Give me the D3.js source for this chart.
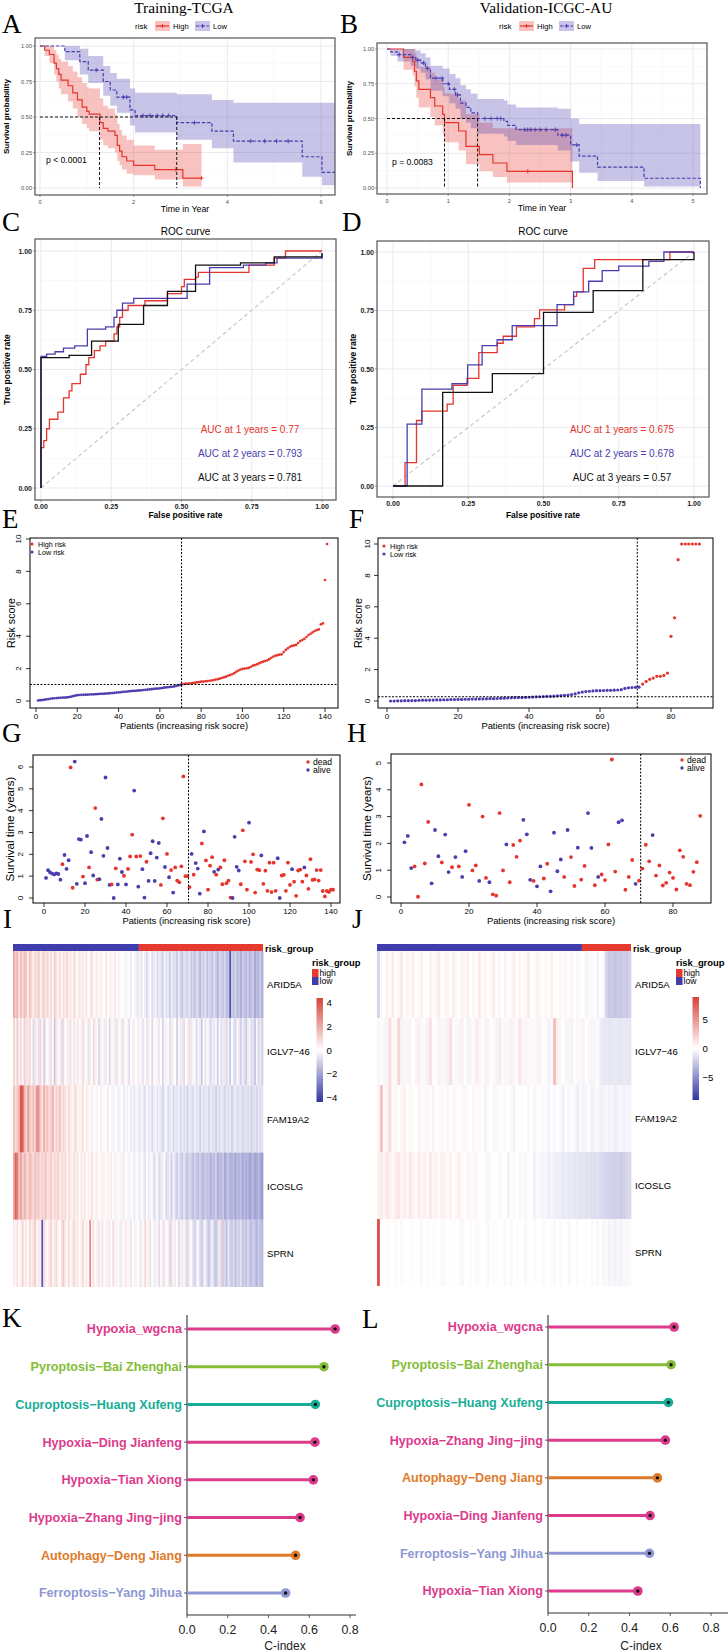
<!DOCTYPE html>
<html><head><meta charset="utf-8">
<script src="https://cdn.jsdelivr.net/npm/d3@7/dist/d3.min.js"></script>
<style>html,body{margin:0;padding:0;background:#fff;}svg{display:block;}</style>
</head><body>
<svg id="fig" width="728" height="1652" xmlns="http://www.w3.org/2000/svg"></svg>
<script>
// ======================= DATA =======================
// Kaplan-Meier steps: [time, survival, lower CI, upper CI]
const kmA_high=[[0,1,1,1],[0.1,0.97,0.93,1],[0.2,0.94,0.88,1],[0.3,0.88,0.8,0.97],[0.35,0.84,0.75,0.94],[0.4,0.8,0.7,0.91],[0.45,0.76,0.66,0.89],[0.6,0.72,0.61,0.86],[0.7,0.67,0.56,0.82],[0.8,0.62,0.5,0.78],[0.9,0.57,0.45,0.74],[1.0,0.54,0.42,0.71],[1.05,0.52,0.4,0.7],[1.28,0.46,0.34,0.63],[1.35,0.42,0.3,0.58],[1.45,0.4,0.28,0.56],[1.6,0.37,0.25,0.52],[1.65,0.3,0.19,0.45],[1.7,0.26,0.16,0.41],[1.75,0.22,0.13,0.37],[1.85,0.19,0.1,0.34],[2.0,0.16,0.09,0.3],[2.45,0.13,0.06,0.27],[3.05,0.07,0.01,0.31]];
const kmA_highEnd=3.45;
const kmA_low=[[0,1,1,1],[0.53,0.96,0.9,1],[0.85,0.89,0.8,0.98],[1.03,0.83,0.74,0.93],[1.35,0.75,0.65,0.86],[1.5,0.69,0.58,0.81],[1.64,0.64,0.53,0.77],[1.92,0.55,0.44,0.7],[2.03,0.51,0.39,0.67],[2.92,0.46,0.34,0.66],[3.67,0.4,0.28,0.62],[4.13,0.33,0.18,0.6],[5.6,0.22,0.08,0.6],[6.02,0.11,0.02,0.6]];
const kmA_lowEnd=6.3;
const kmA_highCensor=[2.9,3.45];
const kmA_lowCensor=[1.2,1.78,1.85,2.2,2.35,2.5,2.62,2.75,3.3,4.5,4.8,5.05,5.3];
const kmA_median=[1.27,2.92];
const kmA_p="p < 0.0001";

const kmB_high=[[0,1,1,1],[0.27,0.94,0.85,1],[0.42,0.91,0.81,1],[0.45,0.84,0.73,0.97],[0.48,0.77,0.65,0.92],[0.52,0.71,0.58,0.87],[0.71,0.65,0.51,0.83],[0.78,0.59,0.45,0.78],[0.91,0.53,0.39,0.73],[0.94,0.47,0.33,0.68],[1.17,0.41,0.27,0.63],[1.29,0.3,0.17,0.53],[1.51,0.24,0.12,0.47],[1.73,0.18,0.08,0.43],[1.96,0.12,0.04,0.43],[3.03,0,0,0]];
const kmB_highEnd=3.03;
const kmB_low=[[0,1,1,1],[0.06,0.98,0.95,1],[0.17,0.96,0.91,1],[0.39,0.94,0.88,1],[0.47,0.92,0.86,0.99],[0.55,0.9,0.83,0.97],[0.63,0.86,0.78,0.94],[0.71,0.79,0.7,0.88],[0.91,0.75,0.66,0.86],[1.02,0.71,0.61,0.82],[1.12,0.67,0.57,0.79],[1.2,0.61,0.5,0.74],[1.29,0.58,0.47,0.71],[1.37,0.54,0.43,0.68],[1.48,0.5,0.39,0.64],[1.91,0.48,0.37,0.63],[1.97,0.45,0.34,0.6],[2.11,0.42,0.31,0.58],[2.79,0.38,0.27,0.57],[3.0,0.31,0.19,0.5],[3.14,0.23,0.11,0.46],[3.44,0.15,0.05,0.46],[4.2,0.07,0.01,0.46],[5.12,0,0,0]];
const kmB_lowEnd=5.12;
const kmB_highCensor=[2.3];
const kmB_lowCensor=[0.2,0.42,0.5,0.6,0.66,0.8,0.9,1.0,1.1,1.15,1.6,1.7,1.8,1.86,2.25,2.3,2.35,2.42,2.5,2.6,2.75,2.86,2.92,3.1];
const kmB_median=[0.94,1.48];
const kmB_p="p = 0.0083";

// ROC curves: [false positive rate, true positive rate] (step corners)
const rocC_1=[[0,0],[0,0.17],[0.01,0.2],[0.02,0.25],[0.03,0.29],[0.06,0.32],[0.08,0.38],[0.1,0.41],[0.11,0.44],[0.14,0.48],[0.16,0.52],[0.17,0.55],[0.19,0.58],[0.21,0.6],[0.23,0.62],[0.26,0.65],[0.27,0.68],[0.28,0.72],[0.29,0.75],[0.31,0.77],[0.37,0.79],[0.45,0.82],[0.5,0.85],[0.51,0.88],[0.55,0.89],[0.56,0.91],[0.74,0.94],[0.83,0.97],[0.87,1],[1,1]];
const rocC_2=[[0,0],[0,0.555],[0.02,0.565],[0.05,0.575],[0.08,0.59],[0.12,0.6],[0.165,0.67],[0.23,0.68],[0.26,0.72],[0.27,0.75],[0.29,0.78],[0.33,0.8],[0.52,0.86],[0.6,0.93],[0.72,0.94],[0.8,0.95],[0.84,0.97],[1,0.99]];
const rocC_3=[[0,0],[0,0.55],[0.1,0.56],[0.18,0.62],[0.275,0.69],[0.365,0.77],[0.45,0.83],[0.55,0.94],[0.71,0.95],[0.83,0.975],[1,0.99]];
const aucC=["0.77","0.793","0.781"];
const rocD_1=[[0,0],[0.04,0.1],[0.078,0.28],[0.096,0.32],[0.18,0.35],[0.2,0.43],[0.246,0.46],[0.285,0.57],[0.346,0.61],[0.366,0.64],[0.41,0.68],[0.47,0.715],[0.487,0.753],[0.57,0.775],[0.6,0.81],[0.61,0.83],[0.632,0.93],[0.67,0.967],[0.92,1],[1,1]];
const rocD_2=[[0,0],[0.047,0.264],[0.096,0.414],[0.196,0.437],[0.248,0.518],[0.296,0.6],[0.346,0.625],[0.396,0.685],[0.545,0.775],[0.6,0.83],[0.65,0.875],[0.695,0.92],[0.75,0.94],[0.85,0.96],[0.9,1],[1,1]];
const rocD_3=[[0,0],[0.165,0.4],[0.33,0.48],[0.5,0.742],[0.665,0.835],[0.83,0.967],[1,1]];
const aucD=["0.675","0.678","0.57"];
const rocYears=[1,2,3];

// Risk scores (sorted)
const riskE_low=[0.03,0.05,0.06,0.08,0.10,0.12,0.14,0.16,0.17,0.18,0.19,0.20,0.21,0.21,0.22,0.24,0.27,0.30,0.33,0.36,0.37,0.38,0.38,0.39,0.39,0.40,0.41,0.41,0.42,0.43,0.44,0.44,0.45,0.46,0.47,0.48,0.49,0.50,0.52,0.53,0.54,0.56,0.57,0.58,0.60,0.61,0.62,0.63,0.64,0.65,0.66,0.68,0.69,0.70,0.72,0.73,0.75,0.76,0.77,0.78,0.80,0.82,0.84,0.85,0.87,0.88,0.90,0.93,0.96,0.99];
const riskE_high=[1.04,1.06,1.07,1.08,1.09,1.11,1.13,1.15,1.17,1.19,1.20,1.22,1.23,1.25,1.26,1.29,1.32,1.35,1.38,1.42,1.46,1.50,1.56,1.60,1.65,1.72,1.80,1.88,1.94,1.98,2.00,2.02,2.04,2.10,2.18,2.22,2.26,2.32,2.38,2.43,2.47,2.51,2.58,2.67,2.74,2.80,2.83,2.86,2.88,3.02,3.15,3.25,3.35,3.40,3.43,3.46,3.58,3.70,3.76,3.83,3.95,4.07,4.15,4.24,4.32,4.38,4.42,4.73,4.79,7.47,9.69];
const riskE_cut=1.02;
const riskF_low=[0.00,0.00,0.01,0.01,0.02,0.02,0.03,0.03,0.04,0.05,0.05,0.06,0.06,0.07,0.07,0.08,0.08,0.09,0.09,0.10,0.10,0.11,0.11,0.12,0.12,0.13,0.13,0.14,0.15,0.15,0.16,0.17,0.18,0.19,0.20,0.21,0.22,0.22,0.23,0.24,0.25,0.26,0.27,0.28,0.29,0.30,0.31,0.33,0.34,0.36,0.38,0.41,0.45,0.52,0.57,0.60,0.62,0.64,0.66,0.66,0.67,0.68,0.68,0.69,0.70,0.72,0.80,0.84,0.86,0.87,0.88];
const riskF_high=[1.08,1.25,1.38,1.46,1.57,1.57,1.63,1.78,4.12,5.30,9.00,10,10,10,10,10,10];
const riskF_cut=0.27;

// Survival time (years) and status (1 = dead, 0 = alive)
const survG_time=[0.92,1.27,1.17,1.12,1.08,1.13,1.10,0.84,1.55,1.97,1.33,1.73,5.98,0.47,6.25,0.65,2.70,2.67,0.98,0.68,2.84,1.40,2.10,1.03,4.12,0.84,0.86,3.62,1.93,5.52,2.29,0.60,0.62,0.00,1.36,0.62,1.80,1.19,1.02,0.62,1.33,1.90,2.90,4.92,1.90,0.52,1.92,1.32,0.02,1.66,0.78,2.05,2.60,0.78,1.85,2.52,0.60,3.65,1.42,2.02,0.95,1.28,0.25,1.40,0.80,0.72,1.45,5.57,1.00,1.00,0.50,2.02,1.07,1.60,1.35,0.20,2.50,3.05,1.72,0.38,1.48,1.87,1.20,1.07,1.30,1.40,0.63,1.73,0.68,0.80,0.02,0.00,2.80,1.43,1.26,0.63,3.10,1.68,0.38,3.45,1.65,2.00,0.25,1.30,1.27,1.95,0.65,1.25,0.33,1.62,0.27,1.62,0.33,1.82,0.00,1.03,1.06,0.33,1.62,0.60,1.32,0.75,0.10,1.26,1.30,0.75,1.40,1.03,0.42,1.78,0.83,0.85,1.28,0.80,1.28,0.32,0.07,0.32,0.28,0.38,0.38];
const survG_status=[0,0,0,0,0,0,0,0,1,0,0,0,1,1,0,0,0,0,1,0,0,1,0,0,1,1,0,0,0,0,0,0,1,0,1,0,0,0,1,0,1,1,1,0,1,0,1,0,0,1,0,0,0,0,0,0,1,1,0,1,0,1,0,1,1,1,1,1,1,1,1,0,1,0,0,0,1,0,1,1,1,1,0,1,0,1,1,1,1,1,1,0,0,0,0,1,1,1,1,0,1,1,1,1,1,0,1,1,1,1,1,1,1,0,0,1,1,1,1,1,0,1,1,1,1,1,0,1,1,1,1,1,1,1,1,1,1,1,1,1,1];
const survH_time=[2.04,2.28,1.08,1.14,0.01,4.20,1.25,2.80,0.51,2.50,1.52,1.29,2.33,0.93,1.11,1.49,1.14,0.75,1.71,3.44,0.99,1.18,0.60,3.00,0.71,0.55,0.10,0.05,3.13,0.99,1.96,0.55,1.94,1.50,2.10,2.88,2.34,0.64,0.60,0.40,1.14,0.69,1.24,0.21,2.40,0.96,1.40,0.75,2.50,1.49,0.41,1.84,0.65,1.16,3.13,1.83,0.44,0.75,0.84,0.63,1.96,5.13,0.95,2.79,2.86,0.27,0.75,1.38,0.49,0.61,1.06,1.95,1.33,2.31,0.80,1.18,0.43,0.53,0.91,0.71,0.28,1.74,1.50,0.49,0.44,0.94,1.30,3.03];
const survH_status=[0,0,0,1,1,1,1,1,0,0,0,1,0,0,1,0,1,0,0,1,1,1,0,1,1,0,1,1,1,1,0,1,1,1,1,0,0,0,1,0,0,1,1,0,0,0,0,1,0,1,1,0,1,1,0,0,1,0,1,1,1,1,1,0,0,1,1,1,0,1,1,1,1,0,1,1,1,1,1,1,1,1,1,1,1,1,1,1];
const riskCutIndex=70.5;

// Heatmap expression (z-scores), one array per gene
const genes=["ARID5A","IGLV7\u221246","FAM19A2","ICOSLG","SPRN"];
const heatI_ARID5A=[2.0,1.2,1.8,0.6,1.5,0.8,1.6,1.2,0.4,1.4,0.9,0.3,1.0,0.7,1.3,0.2,0.8,1.1,0.5,1.0,0.4,0.9,0.2,1.2,0.6,0.3,0.8,0.1,0.7,0.5,1.0,0.3,0.6,0.2,0.9,0.4,0.1,0.7,0.3,0.5,0.2,0.6,0.0,0.4,0.8,0.1,0.3,0.5,-0.1,0.4,0.2,0.0,0.6,0.1,-0.2,0.3,0.1,0.5,0.0,-0.3,0.2,0.0,-0.1,0.3,-0.2,0.1,-0.4,0.0,0.2,-0.3,-0.5,-0.2,-0.6,0.0,-0.4,-0.8,-0.3,-0.1,-0.7,-0.5,-0.2,-0.9,-0.4,-0.6,-1.0,-0.2,-0.7,-0.5,-1.1,-0.3,-0.8,-0.6,-1.2,-0.4,-0.9,-1.3,-0.6,-0.8,-1.0,-0.5,-1.2,-0.9,-1.4,-0.7,-1.0,-1.5,-0.8,-1.1,-0.6,-1.3,-0.9,-1.0,-1.4,-0.7,-1.2,-1.6,-0.9,-1.1,-1.3,-0.8,-1.5,-1.2,-3.8,-1.0,-1.4,-0.9,-1.6,-1.2,-1.8,-1.1,-1.3,-1.5,-1.0,-1.7,-1.3,-1.2,-1.9,-1.4,-1.6,-1.1,-1.8];
const heatI_IGLV746=[1.0,0.4,1.2,-0.3,0.8,0.2,1.1,-0.5,0.6,0.9,0.1,-0.8,0.7,0.3,-0.6,1.0,0.2,-0.9,0.5,0.0,-0.4,0.8,0.1,-1.2,0.6,-0.2,0.3,-0.7,0.9,0.0,0.4,-0.3,0.7,0.1,-0.5,0.2,0.6,-0.1,0.3,0.8,-0.2,0.1,-0.6,0.5,0.0,0.9,-0.3,0.2,-0.8,0.4,0.1,-0.4,0.6,0.0,-0.9,0.3,-0.2,0.5,-0.6,0.2,-0.1,0.7,-0.4,0.0,0.3,-0.7,0.1,0.4,-0.3,0.0,0.5,-0.2,0.3,-0.6,0.1,0.6,-0.4,0.0,-0.8,0.2,-0.1,0.4,-0.5,0.0,-0.9,0.3,-0.3,0.1,-0.6,0.5,-0.2,0.0,-1.0,0.2,-0.4,0.6,-0.7,0.0,-0.3,0.8,-0.5,-0.2,0.1,-0.8,0.3,-0.4,-1.1,0.0,-0.6,0.2,-0.3,-0.9,0.4,-0.5,-0.2,-1.0,0.1,-0.7,-0.4,0.6,-0.8,-0.3,-1.2,0.0,-0.6,-0.9,0.2,-0.5,-1.0,-0.3,-0.7,-1.1,-0.4,0.3,-0.8,-0.6,-1.3,-0.2,-0.9,-0.5,-1.0];
const heatI_FAM19A2=[1.5,0.8,1.2,2.0,4.0,3.6,1.8,1.0,2.2,1.4,0.9,1.6,1.1,2.6,2.4,1.3,0.7,1.9,1.0,1.5,0.8,1.2,1.7,0.6,1.1,0.9,1.4,0.5,1.0,0.7,0.3,0.8,0.5,0.2,0.6,0.9,0.1,0.4,0.3,0.7,0.0,0.5,0.2,-0.2,0.4,0.1,-0.1,0.3,0.0,-0.3,0.2,-0.1,0.1,-0.4,0.0,0.2,-0.3,-0.1,0.1,-0.4,-0.2,0.0,-0.5,-0.1,-0.3,0.1,-0.4,-0.2,-0.6,-0.1,-0.3,-0.5,-0.2,-0.4,-0.7,-0.1,-0.5,-0.3,-0.8,-0.4,-0.2,-0.6,-0.3,-0.5,-0.9,-0.4,-0.2,-0.7,-0.5,-0.3,-0.8,-0.5,-0.6,-0.3,-0.9,-0.4,-0.7,-0.5,-1.0,-0.4,-0.6,-0.8,-0.3,-0.6,-0.5,-1.0,-0.4,-0.7,-0.6,-0.5,-0.9,-0.4,-0.7,-0.6,-1.1,-0.5,-0.8,-0.4,-0.6,-0.9,-0.5,-0.7,-0.5,-1.0,-0.6,-0.4,-0.8,-0.6,-0.5,-0.9,-0.7,-0.6,-0.8,-0.5,-1.0,-0.7,-0.6,-0.9,-0.5,-0.8,-0.6];
const heatI_ICOSLG=[2.0,3.6,3.0,1.5,2.2,1.0,1.8,1.3,0.9,1.6,1.2,0.8,1.5,1.0,1.3,0.7,1.1,0.9,1.4,0.6,0.9,1.2,0.5,1.0,0.7,1.1,0.4,0.8,0.6,0.9,0.3,0.7,0.5,0.2,0.8,0.4,0.6,0.1,0.5,0.3,0.6,0.0,0.4,0.2,0.7,-0.1,0.3,0.5,0.0,0.2,0.4,-0.2,0.1,0.3,-0.1,0.5,0.0,-0.3,0.2,0.1,-0.2,0.3,-0.4,0.0,0.2,-0.3,-0.1,0.1,-0.5,0.0,-0.2,-0.4,0.1,-0.3,-0.6,0.0,-0.5,-0.2,0.2,-0.7,-0.4,-0.1,-0.8,-0.5,-0.3,0.1,-0.9,-0.6,-0.4,-1.0,-0.2,-0.7,-1.1,-0.5,-0.9,-1.2,-0.6,-1.0,-1.3,-0.8,-1.1,-1.4,-0.9,-1.2,-1.5,-1.0,-1.3,-1.6,-1.1,-1.4,-1.2,-1.7,-1.3,-1.5,-1.0,-1.8,-1.4,-1.6,-1.2,-1.9,-1.5,-1.3,-1.8,-1.6,-1.4,-2.0,-1.5,-1.7,-1.3,-1.9,-1.6,-1.8,-1.5,-2.1,-1.7,-1.6,-2.0,-1.8,-1.5,-1.9,-2.2];
const heatI_SPRN=[0.5,0.2,0.8,0.0,0.4,1.0,0.3,0.6,0.1,0.9,0.4,0.7,1.2,0.2,0.5,0.3,-3.6,0.8,0.4,0.1,0.6,1.0,0.2,0.5,0.9,0.3,0.0,0.7,1.3,0.4,0.2,0.8,0.1,0.5,1.0,0.3,0.6,0.0,0.4,0.9,0.2,0.5,0.1,2.6,0.3,0.7,0.0,0.4,-0.5,0.2,0.6,0.1,0.3,-0.3,0.5,0.0,0.8,-0.2,0.3,0.1,-0.4,0.4,0.0,0.6,-0.2,0.2,-0.5,0.1,0.3,-0.3,0.0,0.5,-0.4,0.1,0.9,-0.2,0.3,-0.6,0.0,0.4,-0.3,0.2,-0.7,0.1,0.6,-0.5,0.0,-0.3,1.0,-0.6,0.2,-0.4,0.0,-0.8,0.3,-0.5,-0.2,0.7,-0.9,-0.3,0.1,-0.6,-1.0,-0.4,0.2,-0.7,-1.1,-0.5,-0.2,-0.9,-1.2,-0.6,-0.3,-1.0,-1.3,-0.7,-0.4,1.2,-1.1,-0.8,-1.4,-0.5,-1.0,-1.2,-0.7,-1.5,-0.9,-1.1,-0.6,-1.3,-1.0,-1.4,-0.8,-1.2,-1.5,-1.0,-1.3,-1.6,-1.1,-1.4,-1.5];
const heatI_nLow=71;
const heatJ_ARID5A=[-1.8,0.3,0.0,0.6,0.2,0.9,0.1,0.4,1.0,0.0,0.5,0.2,0.8,0.0,0.3,0.7,0.1,0.0,0.6,0.2,0.4,0.9,0.0,0.3,0.5,0.1,0.8,0.2,0.0,0.6,0.3,0.7,0.0,0.4,0.1,0.9,0.2,0.5,0.0,0.3,0.8,0.1,0.4,0.0,0.6,0.2,0.3,0.7,0.0,0.5,0.1,0.4,0.9,0.0,0.2,0.6,0.3,0.0,0.5,0.1,0.7,0.2,0.0,0.4,0.3,-0.3,0.1,0.5,0.0,-0.4,0.2,0.0,-0.5,0.3,-0.2,0.1,-0.6,0.0,-0.3,-1.8,-2.4,-2.2,-2.6,-2.3,-2.5,-2.2,-2.4,-2.0];
const heatJ_IGLV746=[-0.3,0.2,-0.4,0.5,1.6,-0.2,0.3,1.9,-0.5,0.4,-0.3,0.6,0.0,-0.4,0.8,-0.2,0.3,-0.5,1.4,-0.1,0.2,0.6,-0.3,0.4,-0.6,1.5,-0.2,0.3,-0.4,0.7,0.0,-0.5,0.5,-0.2,0.9,-0.3,0.2,-0.4,0.6,-0.1,0.3,-0.5,1.0,-0.2,0.4,-0.3,0.7,-0.4,0.2,1.3,-0.3,0.5,-0.2,0.3,0.3,-0.4,0.6,-0.1,0.2,-0.5,0.4,3.0,0.8,-0.2,0.1,-0.4,0.5,-0.6,0.2,-0.3,0.4,-0.5,0.1,-0.3,0.6,-0.4,-0.2,-0.8,-1.0,-0.9,-1.1,-1.0,-0.9,-1.0,-1.1,-0.9,-1.0,-1.0];
const heatJ_FAM19A2=[0.4,2.8,0.3,0.6,1.6,0.2,0.5,0.0,0.3,0.7,0.1,0.4,0.2,0.0,0.5,0.3,-0.2,0.4,0.1,0.6,0.0,0.3,-0.3,0.2,0.5,0.0,0.4,-0.2,0.1,0.3,-0.4,0.2,0.0,0.5,-0.1,0.3,0.1,-0.5,0.2,0.0,0.4,-0.3,0.1,0.2,-0.2,0.0,0.3,-0.6,0.1,-0.1,0.2,0.0,-0.3,0.1,-0.4,0.2,0.0,-0.2,0.1,-0.5,0.0,-0.3,0.1,-0.2,-0.6,0.0,-0.4,-0.1,-0.3,-0.7,-0.2,-0.5,-0.3,-0.1,-0.6,-0.4,-0.2,-0.7,-0.5,-0.3,-0.6,-0.4,-0.8,-0.5,-0.3,-0.6,-0.4,-0.5];
const heatJ_ICOSLG=[0.6,0.9,0.4,1.1,0.7,0.3,0.9,1.2,0.5,0.8,0.4,1.0,0.6,0.2,0.9,0.5,0.7,0.3,1.0,0.4,0.6,0.2,0.8,0.5,0.3,0.6,0.1,0.4,0.7,0.2,0.0,0.5,0.3,-0.2,0.4,0.1,0.0,0.3,-0.4,0.2,0.0,0.1,-0.3,0.2,0.0,-0.5,0.1,-0.2,0.0,-0.3,0.2,-0.4,-0.1,0.0,-0.6,-0.2,-0.3,-0.5,-0.4,-0.7,-0.5,-0.6,-0.8,-0.7,-0.9,-0.8,-1.0,-0.9,-1.1,-1.0,-1.2,-1.1,-1.3,-1.2,-1.4,-1.5,-1.4,-1.6,-1.7,-1.8,-1.9,-2.0,-2.1,-2.0,-2.2,-2.1,-1.8,-1.6];
const heatJ_SPRN=[8.0,0.1,0.0,0.2,-0.1,0.0,0.3,0.0,-0.2,0.1,0.0,0.2,-0.1,0.0,0.1,-0.3,0.0,0.2,0.0,-0.1,0.1,0.0,-0.2,0.3,0.0,0.1,-0.1,0.0,0.2,-0.4,0.0,0.1,-0.2,0.0,0.3,-0.1,0.0,0.1,-0.3,0.0,0.2,-0.1,0.0,0.1,-0.2,0.0,0.4,0.0,-0.1,0.1,0.0,-0.3,0.1,0.0,0.2,-0.1,0.0,-0.2,0.1,0.0,-0.1,0.3,0.0,-0.2,0.1,0.0,-0.3,0.1,0.0,-0.2,0.0,0.1,-0.1,0.0,-0.2,0.1,-0.3,0.0,-0.4,-0.2,-0.5,-0.3,-0.6,-0.4,-0.5,-0.3,-0.4,-0.2];
const heatJ_nLow=71;
const heatI_ticks=[4,2,0,-2,-4];
const heatJ_ticks=[5,0,-5];

// C-index comparison
const cindexK_labels=["Hypoxia_wgcna","Pyroptosis\u2212Bai Zhenghai","Cuproptosis\u2212Huang Xufeng","Hypoxia\u2212Ding Jianfeng","Hypoxia\u2212Tian Xiong","Hypoxia\u2212Zhang Jing\u2212jing","Autophagy\u2212Deng Jiang","Ferroptosis\u2212Yang Jihua"];
const cindexK=[0.727,0.672,0.63,0.628,0.62,0.555,0.533,0.484];
const cindexL_labels=["Hypoxia_wgcna","Pyroptosis\u2212Bai Zhenghai","Cuproptosis\u2212Huang Xufeng","Hypoxia\u2212Zhang Jing\u2212jing","Autophagy\u2212Deng Jiang","Hypoxia\u2212Ding Jianfeng","Ferroptosis\u2212Yang Jihua","Hypoxia\u2212Tian Xiong"];
const cindexL=[0.619,0.604,0.591,0.576,0.537,0.501,0.498,0.441];
const cindexTicks=[0,0.2,0.4,0.6,0.8];

// ======================= STYLE =======================
const SANS='"Liberation Sans", Arial, Helvetica, sans-serif';
const SERIF='"Liberation Serif", "Times New Roman", Times, serif';
const RED='#E5352C', BLUE='#4A3DAE', HIGHC='#E6392F', LOWC='#3F3DAC';
const catColor={Hypoxia:'#DD3A8C',Pyroptosis:'#84BD37',Cuproptosis:'#17AE98',Autophagy:'#DE7B2B',Ferroptosis:'#8E97D3'};
const svg=d3.select('#fig');
svg.append('rect').attr('width',728).attr('height',1652).attr('fill','#fff');

function txt(g,x,y,s,o={}){
  const t=g.append('text').attr('x',x).attr('y',y).text(s)
    .style('font-family',o.family||SANS).style('font-size',(o.size||8)+'px').attr('fill',o.fill||'#000');
  if(o.anchor)t.attr('text-anchor',o.anchor);
  if(o.weight)t.style('font-weight',o.weight);
  if(o.rotate!=null)t.attr('transform',`rotate(${o.rotate},${x},${y})`);
  return t;
}
function ln(g,x1,y1,x2,y2,stroke,w,dash){
  const l=g.append('line').attr('x1',x1).attr('y1',y1).attr('x2',x2).attr('y2',y2).attr('stroke',stroke).attr('stroke-width',w);
  if(dash)l.attr('stroke-dasharray',dash);return l;
}

// ======================= KM =======================
function stepVal(rows,t){let v=rows[0][1];for(const r of rows){if(r[0]<=t)v=r[1];else break;}return v;}
function drawKM(c){
  const g=svg.append('g');
  const [bx0,by0,bx1,by1]=c.box;
  const x=d3.scaleLinear().domain(c.xdom).range(c.xr);
  const y=d3.scaleLinear().domain([0,1]).range(c.yr);
  g.append('rect').attr('x',bx0).attr('y',by0).attr('width',bx1-bx0).attr('height',by1-by0).attr('fill','#fff');
  c.xminor.forEach(v=>ln(g,x(v),by0,x(v),by1,'#F2F2F6',0.5));
  [0.125,0.375,0.625,0.875].forEach(v=>ln(g,bx0,y(v),bx1,y(v),'#F2F2F6',0.5));
  c.xticks.forEach(v=>ln(g,x(v),by0,x(v),by1,'#E4E4EC',0.8));
  [0,0.25,0.5,0.75,1].forEach(v=>ln(g,bx0,y(v),bx1,y(v),'#E4E4EC',0.8));
  const ext=(rows,end)=>{const r=rows.slice();const l=r[r.length-1];if(end>l[0])r.push([end,l[1],l[2],l[3]]);return r;};
  const area=d3.area().curve(d3.curveStepAfter).x(d=>x(d[0])).y0(d=>y(d[2])).y1(d=>y(d[3]));
  const line=d3.line().curve(d3.curveStepAfter).x(d=>x(d[0])).y(d=>y(d[1]));
  c.series.forEach(s=>g.append('path').attr('d',area(ext(s.rows,s.end))).attr('fill',s.color).attr('fill-opacity',0.3));
  c.series.forEach(s=>{
    g.append('path').attr('d',line(ext(s.rows,s.end))).attr('fill','none').attr('stroke',s.color).attr('stroke-width',1.2).attr('stroke-dasharray',s.dash||null);
    s.censor.forEach(t=>{const cx=x(t),cy=y(stepVal(s.rows,t));
      g.append('path').attr('d',`M${cx-2},${cy}h4M${cx},${cy-2.2}v4.4`).attr('stroke',s.color).attr('stroke-width',0.9);});
  });
  const mmax=d3.max(c.median);
  ln(g,x(0),y(0.5),x(mmax),y(0.5),'#111',1,'3,2');
  c.median.forEach(t=>ln(g,x(t),y(0.5),x(t),y(0),'#111',1,'3,2'));
  txt(g,c.pxy[0],c.pxy[1],c.p,{size:8.6});
  g.append('rect').attr('x',bx0).attr('y',by0).attr('width',bx1-bx0).attr('height',by1-by0).attr('fill','none').attr('stroke','#555').attr('stroke-width',1.2);
  [0,0.25,0.5,0.75,1].forEach(v=>{ln(g,bx0-2,y(v),bx0,y(v),'#555',0.6);txt(g,bx0-3,y(v)+2,d3.format('.2f')(v),{size:5.6,anchor:'end',fill:'#4D4D4D'});});
  c.xticks.forEach(v=>{ln(g,x(v),by1,x(v),by1+2,'#555',0.6);txt(g,x(v),by1+9,String(v),{size:5.6,anchor:'middle',fill:'#4D4D4D'});});
  txt(g,(bx0+bx1)/2,by1+17,'Time in Year',{size:8.8,anchor:'middle'});
  txt(g,c.ylabX,(by0+by1)/2,'Survival probability',{size:8.1,anchor:'middle',weight:'bold',rotate:-90});
  txt(g,c.titleX,13,c.title,{family:SERIF,size:15.4,anchor:'middle'});
  // legend
  const lx=c.legX, ly=26;
  txt(g,lx,ly+3,'risk',{size:8});
  c.series.forEach((s,i)=>{
    const kx=lx+c.legKeys[i];
    g.append('rect').attr('x',kx).attr('y',ly-5).attr('width',15).attr('height',10).attr('fill',s.color).attr('fill-opacity',0.3);
    ln(g,kx+1,ly,kx+14,ly,s.color,1.2,s.dash);
    g.append('path').attr('d',`M${kx+5.5},${ly}h4M${kx+7.5},${ly-2}v4`).attr('stroke',s.color).attr('stroke-width',0.9);
    txt(g,kx+18,ly+3,s.name,{size:7.6});
  });
}
drawKM({box:[35,38,335,195],xdom:[0,6],xr:[40,321],yr:[188,46],xticks:[0,2,4,6],xminor:[1,3,5],
  series:[{name:'High',rows:kmA_high,end:kmA_highEnd,color:RED,censor:kmA_highCensor},
          {name:'Low',rows:kmA_low,end:kmA_lowEnd,color:BLUE,censor:kmA_lowCensor,dash:'3.5,1.8'}],
  median:kmA_median,p:kmA_p,pxy:[46,163],ylabX:9,title:'Training-TCGA',titleX:184,legX:135,legKeys:[20,60]});
drawKM({box:[377,43,707,194],xdom:[0,5],xr:[387,693],yr:[188,49],xticks:[0,1,2,3,4,5],xminor:[0.5,1.5,2.5,3.5,4.5],
  series:[{name:'High',rows:kmB_high,end:kmB_highEnd,color:RED,censor:kmB_highCensor},
          {name:'Low',rows:kmB_low,end:kmB_lowEnd,color:BLUE,censor:kmB_lowCensor,dash:'3.5,1.8'}],
  median:kmB_median,p:kmB_p,pxy:[392,165],ylabX:352,title:'Validation-ICGC-AU',titleX:546,legX:499,legKeys:[20,60]});

// ======================= ROC =======================
function drawROC(c){
  const g=svg.append('g');
  const [bx0,by0,bx1,by1]=c.box;
  const x=d3.scaleLinear().domain([0,1]).range(c.xr);
  const y=d3.scaleLinear().domain([0,1]).range(c.yr);
  g.append('rect').attr('x',bx0).attr('y',by0).attr('width',bx1-bx0).attr('height',by1-by0).attr('fill','#fff');
  const maj=[0,0.25,0.5,0.75,1], mn=[0.125,0.375,0.625,0.875];
  mn.forEach(v=>{ln(g,x(v),by0,x(v),by1,'#F1F1F5',0.5);ln(g,bx0,y(v),bx1,y(v),'#F1F1F5',0.5);});
  maj.forEach(v=>{ln(g,x(v),by0,x(v),by1,'#E4E4EC',0.8);ln(g,bx0,y(v),bx1,y(v),'#E4E4EC',0.8);});
  ln(g,x(0),y(0),x(1),y(1),'#C4C4C4',1.1,'4,3');
  const line=d3.line().curve(d3.curveStepAfter).x(d=>x(d[0])).y(d=>y(d[1]));
  const cols=[RED,BLUE,'#111'];
  c.curves.forEach((cv,i)=>g.append('path').attr('d',line(cv)).attr('fill','none').attr('stroke',cols[i]).attr('stroke-width',1.3));
  c.auc.forEach((a,i)=>txt(g,c.aucX,432.5+i*24,`AUC at ${rocYears[i]} years = ${a}`,{size:10,anchor:'middle',fill:cols[i]}));
  g.append('rect').attr('x',bx0).attr('y',by0).attr('width',bx1-bx0).attr('height',by1-by0).attr('fill','none').attr('stroke','#555').attr('stroke-width',1.2);
  maj.forEach(v=>{
    ln(g,bx0-2,y(v),bx0,y(v),'#555',0.6);txt(g,bx0-3,y(v)+2.5,d3.format('.2f')(v),{size:7,anchor:'end',weight:'bold',fill:'#222'});
    ln(g,x(v),by1,x(v),by1+2,'#555',0.6);txt(g,x(v),by1+9,d3.format('.2f')(v),{size:7,anchor:'middle',weight:'bold',fill:'#222'});
  });
  txt(g,(bx0+bx1)/2,518,'False positive rate',{size:8.5,anchor:'middle',weight:'bold'});
  txt(g,c.ylabX,(by0+by1)/2,'True positive rate',{size:8.5,anchor:'middle',weight:'bold',rotate:-90});
  txt(g,(bx0+bx1)/2,234.5,'ROC curve',{size:10,anchor:'middle'});
}
drawROC({box:[35,239,336,500],xr:[41,322],yr:[488,251],curves:[rocC_1,rocC_2,rocC_3],auc:aucC,aucX:250,ylabX:10});
drawROC({box:[377,241,709,497],xr:[393,694],yr:[486,252],curves:[rocD_1,rocD_2,rocD_3],auc:aucD,aucX:622,ylabX:356});

// ======================= Base-R style scatter =======================
function baseAxes(g,c,x,y){
  const [bx0,by0,bx1,by1]=c.box;
  c.xticks.forEach(v=>{ln(g,x(v),by1,x(v),by1+4,'#000',0.8);txt(g,x(v),by1+11,String(v),{size:8,anchor:'middle'});});
  c.yticks.forEach(v=>{ln(g,bx0-4,y(v),bx0,y(v),'#000',0.8);txt(g,c.ytickX,y(v),String(v),{size:8,anchor:'middle',rotate:-90});});
  txt(g,(bx0+bx1)/2,by1+21,c.xlab,{size:9.4,anchor:'middle'});
  txt(g,c.ylabX,(by0+by1)/2,c.ylab,{size:c.ylabSize,anchor:'middle',rotate:-90});
}
function drawRisk(c){
  const g=svg.append('g');
  const [bx0,by0,bx1,by1]=c.box;
  const x=d3.scaleLinear().domain(c.xdom).range(c.xr);
  const y=d3.scaleLinear().domain(c.ydom).range(c.yr);
  const pts=c.low.map((v,i)=>({i:i+1,v,h:0})).concat(c.high.map((v,i)=>({i:c.low.length+i+1,v,h:1})));
  g.selectAll('circle.p').data(pts).enter().append('circle').attr('cx',d=>x(d.i)).attr('cy',d=>y(d.v)).attr('r',c.r).attr('fill',d=>d.h?RED:BLUE);
  ln(g,x(riskCutIndex),by0,x(riskCutIndex),by1,'#000',1,'2,1.5');
  ln(g,bx0,y(c.cut),bx1,y(c.cut),'#000',1,'2,1.5');
  g.append('rect').attr('x',bx0).attr('y',by0).attr('width',bx1-bx0).attr('height',by1-by0).attr('fill','none').attr('stroke','#000').attr('stroke-width',1);
  baseAxes(g,c,x,y);
  [['High risk',RED],['Low risk',BLUE]].forEach((l,i)=>{
    g.append('circle').attr('cx',c.leg[0]).attr('cy',c.leg[1]+i*8).attr('r',1.6).attr('fill',l[1]);
    txt(g,c.leg[0]+6,c.leg[1]+i*8+2.6,l[0],{size:7.2});
  });
}
drawRisk({box:[30,538,338,708],xdom:[0,140],xr:[36,325],ydom:[0,10],yr:[701,539],low:riskE_low,high:riskE_high,cut:riskE_cut,r:1.35,
  xticks:[0,20,40,60,80,100,120,140],yticks:[0,2,4,6,8,10],ytickX:21,xlab:'Patients (increasing risk socre)',ylab:'Risk score',ylabX:15,ylabSize:10.7,leg:[32,544]});
drawRisk({box:[378,538,713,708],xdom:[0,80],xr:[387,671],ydom:[0,10],yr:[701,544],low:riskF_low,high:riskF_high,cut:riskF_cut,r:1.6,
  xticks:[0,20,40,60,80],yticks:[0,2,4,6,8,10],ytickX:370,xlab:'Patients (increasing risk socre)',ylab:'Risk score',ylabX:362,ylabSize:10.7,leg:[384,546]});

function drawSurv(c){
  const g=svg.append('g');
  const [bx0,by0,bx1,by1]=c.box;
  const x=d3.scaleLinear().domain(c.xdom).range(c.xr);
  const y=d3.scaleLinear().domain(c.ydom).range(c.yr);
  const pts=c.time.map((v,i)=>({i:i+1,v,d:c.status[i]}));
  g.selectAll('circle.p').data(pts).enter().append('circle').attr('cx',d=>x(d.i)).attr('cy',d=>y(d.v)).attr('r',c.r).attr('fill',d=>d.d?RED:BLUE);
  ln(g,x(riskCutIndex),by0,x(riskCutIndex),by1,'#000',1,'2,1.5');
  g.append('rect').attr('x',bx0).attr('y',by0).attr('width',bx1-bx0).attr('height',by1-by0).attr('fill','none').attr('stroke','#000').attr('stroke-width',1);
  baseAxes(g,c,x,y);
  [['dead',RED],['alive',BLUE]].forEach((l,i)=>{
    g.append('circle').attr('cx',c.leg[0]).attr('cy',c.leg[1]+i*8).attr('r',1.7).attr('fill',l[1]);
    txt(g,c.leg[0]+5,c.leg[1]+i*8+3,l[0],{size:8.6});
  });
}
drawSurv({box:[33,755,340,903],xdom:[0,140],xr:[44,331],ydom:[0,6],yr:[898,767],time:survG_time,status:survG_status,r:1.9,
  xticks:[0,20,40,60,80,100,120,140],yticks:[0,1,2,3,4,5,6],ytickX:23,xlab:'Patients (increasing risk score)',ylab:'Survival time (years)',ylabX:14,ylabSize:11.5,leg:[308,762]});
drawSurv({box:[391,754,711,903],xdom:[0,80],xr:[401,673],ydom:[0,5],yr:[897,763],time:survH_time,status:survH_status,r:1.9,
  xticks:[0,20,40,60,80],yticks:[0,1,2,3,4,5],ytickX:381,xlab:'Patients (increasing risk score)',ylab:'Survival time (years)',ylabX:371,ylabSize:11.5,leg:[682,760]});

// ======================= Heatmaps =======================
function drawHeat(c){
  const g=svg.append('g');
  const n=c.rows[0].length;
  const x=d3.scaleBand().domain(d3.range(n)).range([c.x0,c.x1]);
  const y=d3.scaleBand().domain(genes).range([c.y0,c.y1]);
  const col=d3.scaleLinear().domain([-c.lim,0,c.lim]).range(['#3434A2','#FFFFFF','#D8423A']).interpolate(d3.interpolateRgb).clamp(true);
  g.append('rect').attr('x',c.x0).attr('y',c.ay0).attr('width',x(c.nLow)-c.x0).attr('height',c.y0-c.ay0).attr('fill',LOWC);
  g.append('rect').attr('x',x(c.nLow)).attr('y',c.ay0).attr('width',c.x1-x(c.nLow)).attr('height',c.y0-c.ay0).attr('fill',HIGHC);
  genes.forEach((gene,gi)=>{
    g.selectAll(null).data(c.rows[gi]).enter().append('rect')
      .attr('x',(d,i)=>x(i)).attr('y',y(gene)).attr('width',x.bandwidth()+0.35).attr('height',y.bandwidth()).attr('fill',d=>col(d));
    txt(g,c.labX,y(gene)+y.bandwidth()/2+3.5,gene,{size:9.6});
  });
  txt(g,c.x1+2,c.y0+0.5,'risk_group',{size:9.4,weight:'bold'});
  // legend
  const [lx,ly]=c.leg;
  txt(g,lx,ly,'risk_group',{size:9.4,weight:'bold'});
  [['high',HIGHC],['low',LOWC]].forEach((l,i)=>{
    g.append('rect').attr('x',lx).attr('y',ly+3+i*8).attr('width',6.5).attr('height',8).attr('fill',l[1]);
    txt(g,lx+7.5,ly+10+i*8,l[0],{size:8.6});
  });
  const [cx,cy0,cy1]=c.cbar;
  const cs=d3.scaleLinear().domain([c.lim,-c.lim]).range([cy0,cy1]);
  const gid='grad'+c.id;
  const grad=svg.append('defs').append('linearGradient').attr('id',gid).attr('x1',0).attr('x2',0).attr('y1',0).attr('y2',1);
  d3.range(0,1.0001,0.05).forEach(t=>grad.append('stop').attr('offset',t).attr('stop-color',col(c.lim-2*c.lim*t)));
  g.append('rect').attr('x',cx).attr('y',cy0).attr('width',6.5).attr('height',cy1-cy0).attr('fill',`url(#${gid})`);
  c.ticks.forEach(v=>txt(g,cx+10,cs(v)+3.5,d3.format('d')(v),{size:9.6}));
}
drawHeat({id:'I',rows:[heatI_ARID5A,heatI_IGLV746,heatI_FAM19A2,heatI_ICOSLG,heatI_SPRN],nLow:heatI_nLow,x0:13,x1:263,ay0:944,y0:951,y1:1287,lim:4.35,
  labX:267,leg:[312,966],cbar:[316.5,998,1102],ticks:heatI_ticks});
drawHeat({id:'J',rows:[heatJ_ARID5A,heatJ_IGLV746,heatJ_FAM19A2,heatJ_ICOSLG,heatJ_SPRN],nLow:heatJ_nLow,x0:377,x1:631,ay0:944,y0:951,y1:1286,lim:8.8,
  labX:635,leg:[676,966],cbar:[692.5,997,1100],ticks:heatJ_ticks});

// ======================= Lollipops =======================
function drawLolli(c){
  const g=svg.append('g');
  const x=d3.scaleLinear().domain([0,0.8]).range([c.ax,c.ax+163]);
  const y=d3.scalePoint().domain(c.labels).range([c.yTop,c.yBot]);
  ln(g,c.ax,c.axTop,c.ax,c.axBot,'#333',1.1);
  ln(g,c.ax,c.axBot,c.axEnd,c.axBot,'#333',1.1);
  c.labels.forEach((lab,i)=>{
    const colr=catColor[lab.split(/[\u2212_]/)[0]];
    const yy=y(lab);
    ln(g,c.ax-3,yy,c.ax,yy,'#333',0.8);
    ln(g,c.ax,yy,x(c.values[i]),yy,colr,3);
    g.append('circle').attr('cx',x(c.values[i])).attr('cy',yy).attr('r',4.8).attr('fill',colr);
    g.append('circle').attr('cx',x(c.values[i])).attr('cy',yy).attr('r',1.7).attr('fill','#111');
    txt(g,c.ax-5,yy+4.4,lab,{size:12.6,weight:'bold',anchor:'end',fill:colr});
  });
  cindexTicks.forEach(v=>{ln(g,x(v),c.axBot,x(v),c.axBot+3,'#333',0.8);txt(g,x(v),c.axBot+19,d3.format('.1f')(v),{size:12.4,anchor:'middle',fill:'#222'});});
  txt(g,c.labC,1650,'C-index',{size:12,anchor:'middle',fill:'#222'});
}
drawLolli({labels:cindexK_labels,values:cindexK,ax:187,yTop:1329,yBot:1593,axTop:1315,axBot:1615,axEnd:356,labC:285});
drawLolli({labels:cindexL_labels,values:cindexL,ax:548,yTop:1327,yBot:1591,axTop:1315,axBot:1613,axEnd:728,labC:641});

// ======================= Panel letters =======================
const panelLetters=[["A",2,33],["B",340,33],["C",2,231],["D",342,231],["E",2,528],["F",349,528],["G",2,742],["H",347,742],["I",3,928],["J",352,928],["K",2,1327],["L",362,1328]];
panelLetters.forEach(p=>txt(svg,p[1],p[2],p[0],{family:SERIF,size:27}));
</script></body></html>
